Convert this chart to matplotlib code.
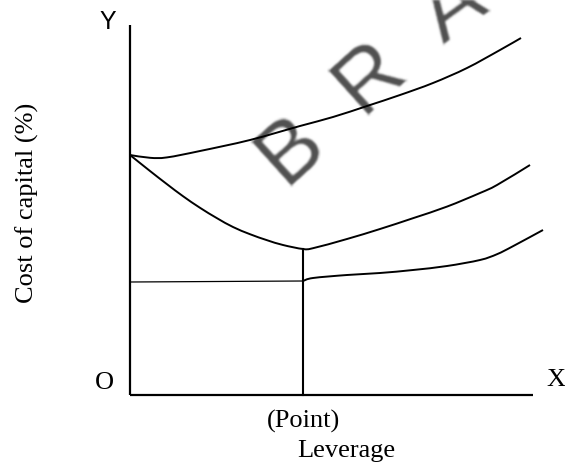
import matplotlib
matplotlib.use("Agg")
import numpy as np
import matplotlib.pyplot as plt
from matplotlib.path import Path
from matplotlib.patches import PathPatch

# Cost of equity (ke)
ke_x = [0.0, 0.5, 0.925, 1.75, 3.0, 4.25, 5.075, 5.925, 6.75, 7.575, 8.425, 9.25, 9.775]
ke_y = [6.0, 5.93, 5.94, 6.1, 6.375, 6.725, 6.95, 7.225, 7.5, 7.8, 8.175, 8.625, 8.925]

# Overall cost of capital (ko)
ko_x = [0.0, 0.5, 0.925, 1.325, 1.75, 2.175, 2.575, 3.0, 3.425, 3.825, 4.325,
        4.575, 5.425, 6.25, 7.075, 7.925, 8.75, 9.175, 10.0]
ko_y = [6.0, 5.6, 5.27, 4.97, 4.68, 4.42, 4.2, 4.02, 3.87, 3.75, 3.65,
        3.67, 3.9, 4.15, 4.42, 4.71, 5.05, 5.25, 5.75]

# Cost of debt (kd): flat up to the optimum, then rising
kd_flat_x = [0.0, 4.325]
kd_flat_y = [2.825, 2.85]
kd_x = [4.325, 4.575, 5.425, 6.25, 7.075, 7.925, 8.75, 9.175, 9.575, 10.325]
kd_y = [2.85, 2.925, 3.0, 3.05, 3.125, 3.225, 3.375, 3.52, 3.72, 4.125]

optimum_x = 4.325
axis_x_end = 10.075
axis_y_end = 9.25

x_label = "Leverage"
y_label = "Cost of capital (%)"
point_label = "(Point)"
watermark = ["B", "R", "A"]


def smooth_path(xs, ys):
    """Bezier path passing through every point (Catmull-Rom tangents)."""
    p = np.column_stack([xs, ys]).astype(float)
    verts = [p[0]]
    codes = [Path.MOVETO]
    n = len(p)
    for i in range(n - 1):
        p0 = p[i - 1] if i > 0 else p[i]
        p1, p2 = p[i], p[i + 1]
        p3 = p[i + 2] if i + 2 < n else p[i + 1]
        c1 = p1 + (p2 - p0) / 6.0
        c2 = p2 - (p3 - p1) / 6.0
        verts += [c1, c2, p2]
        codes += [Path.CURVE4] * 3
    return Path(verts, codes)


def blur_filter(radius):
    pad = 3 * radius + 2

    def _f(img, dpi):
        out = np.pad(img, ((pad, pad), (pad, pad), (0, 0)), mode="constant")
        for _ in range(2):
            for axis in (0, 1):
                acc = np.zeros_like(out)
                for s in range(-radius, radius + 1):
                    acc += np.roll(out, s, axis=axis)
                out = acc / (2 * radius + 1)
        return out, -pad, -pad
    return _f


fig = plt.figure(figsize=(5.65, 4.66), dpi=100)
ax = fig.add_axes([0, 0, 1, 1])
ax.set_xlim(-3.25, 10.875)
ax.set_ylim(-1.775, 9.875)
ax.axis("off")

serif = "Liberation Serif"
sans = "Liberation Sans"

# soft grey watermark letters behind the curves
wm_pos = [(4.05, 6.125, 42), (6.0, 7.95, 42), (8.125, 9.625, 36)]
for ch, (wx, wy, rot) in zip(watermark, wm_pos):
    t = ax.text(wx, wy, ch, fontsize=63, family=sans, color="#4f4f4f",
                rotation=rot, rotation_mode="anchor", ha="center", va="center",
                zorder=1)
    t.set_agg_filter(blur_filter(1))

# axes
ax.plot([0, 0], [0, axis_y_end], color="black", lw=1.6, zorder=3,
        solid_capstyle="butt")
ax.plot([0, axis_x_end], [0, 0], color="black", lw=1.6, zorder=3,
        solid_capstyle="butt")

# curves
for xs, ys in [(ke_x, ke_y), (ko_x, ko_y), (kd_x, kd_y)]:
    ax.add_patch(PathPatch(smooth_path(xs, ys), facecolor="none",
                           edgecolor="black", lw=1.4, zorder=3))
ax.plot(kd_flat_x, kd_flat_y, color="black", lw=0.9, zorder=3)

# optimum leverage marker
ko_min = min(ko_y)
ax.plot([optimum_x, optimum_x], [0, ko_min], color="black", lw=1.5, zorder=3)

# labels
ax.text(-0.55, 9.325, "Y", fontsize=18, family=sans, ha="center", va="center")
ax.text(-0.65, 0.3, "O", fontsize=19, family=serif, ha="center", va="center")
ax.text(10.65, 0.375, "X", fontsize=19, family=serif, ha="center", va="center")
ax.text(optimum_x, -0.65, point_label, fontsize=19, family=serif,
        ha="center", va="center")
ax.text(5.4, -1.4, x_label, fontsize=19, family=serif, ha="center", va="center")
ax.text(-2.575, 4.8, y_label, fontsize=19, family=serif, rotation=90,
        ha="center", va="center")

fig.savefig("out.png", dpi=100)
